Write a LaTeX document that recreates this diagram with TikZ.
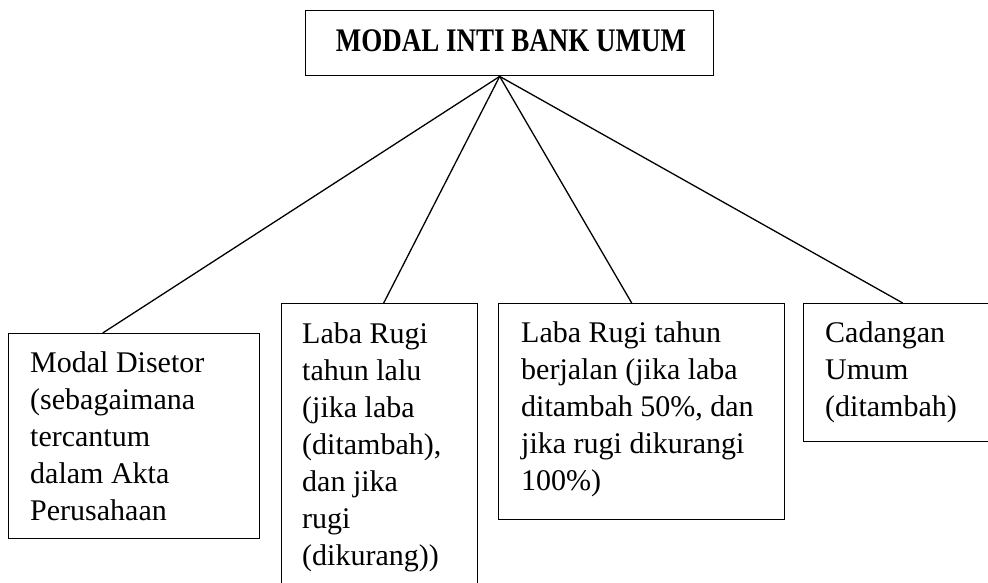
\documentclass[tikz,border=0pt]{standalone}
\usepackage{fontspec}
\setmainfont{Liberation Serif}
\begin{document}
\begin{tikzpicture}[x=1pt,y=-1pt,
  box/.style={draw, line width=1.4pt, rectangle, inner sep=0pt, anchor=north west},
  label/.style={anchor=base west, inner sep=0pt, font=\fontsize{30}{37}\selectfont},
  link/.style={line width=1.3pt}]
\useasboundingbox (0,0) rectangle (988,582);
\clip (0,0) rectangle (988,582);

% root box
\node[box, minimum width=408pt, minimum height=65pt] (root) at (305,10) {};
\node[anchor=base, inner sep=0pt, font=\fontsize{27}{32}\selectfont\bfseries]
  (roottext) at (511,51) {\scalebox{1}[1.22]{MODAL INTI BANK UMUM}};

% component boxes
\node[box, minimum width=251pt, minimum height=205pt] (b1) at (8,333) {};
\node[box, minimum width=196pt, minimum height=300pt] (b2) at (281,303) {};
\node[box, minimum width=286pt, minimum height=216pt] (b3) at (498,303) {};
\node[box, minimum width=198pt, minimum height=138pt] (b4) at (803,303) {};

% texts
\node[label] (t1) at (30,372) {\begin{tabular}[t]{@{}l@{}}Modal Disetor\\(sebagaimana\\tercantum\\dalam Akta\\Perusahaan\end{tabular}};
\node[label] (t2) at (302,343) {\begin{tabular}[t]{@{}l@{}}Laba Rugi\\tahun lalu\\(jika laba\\(ditambah),\\dan jika\\rugi\\(dikurang))\end{tabular}};
\node[label] (t3) at (521,342) {\begin{tabular}[t]{@{}l@{}}Laba Rugi tahun\\berjalan (jika laba\\ditambah 50\%, dan\\jika rugi dikurangi\\100\%)\end{tabular}};
\node[label] (t4) at (825,342) {\begin{tabular}[t]{@{}l@{}}Cadangan\\Umum\\(ditambah)\end{tabular}};

% connectors
\coordinate (apex) at ([xshift=-10pt]root.south);
\draw[link] (apex) -- ([xshift=-31.5pt]b1.north);
\draw[link] (apex) -- ([xshift=4pt]b2.north);
\draw[link] (apex) -- ([xshift=-10pt]b3.north);
\draw[link] (apex) -- (b4.north);
\end{tikzpicture}
\end{document}
